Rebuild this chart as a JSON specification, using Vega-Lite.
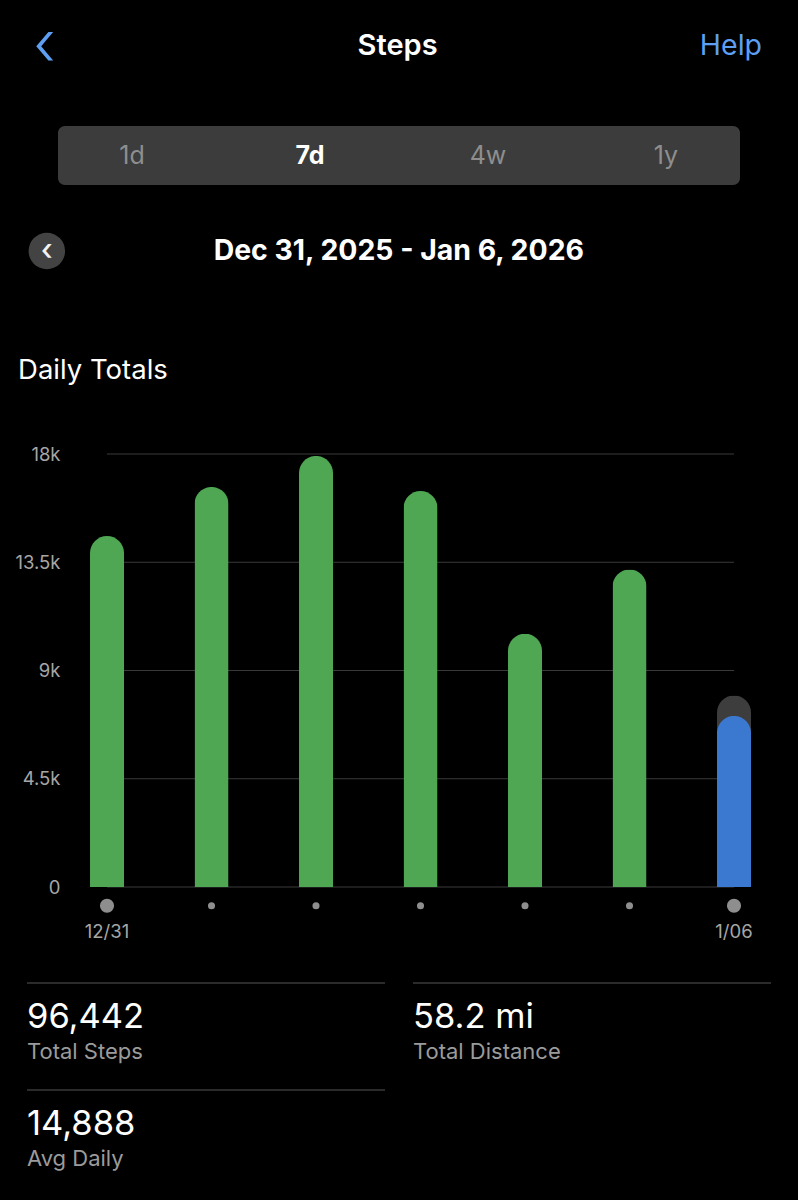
{
  "$schema": "https://vega.github.io/schema/vega-lite/v6.json",
  "background": "#000000",
  "padding": 0,
  "config": {"view": {"stroke": null}, "font": "Inter", "text": {"font": "Inter"}},
  "datasets": {
    "days": [
      {"date": "12/31", "steps": 14590, "status": "past"},
      {"date": "1/01", "steps": 16630, "status": "past"},
      {"date": "1/02", "steps": 17920, "status": "past"},
      {"date": "1/03", "steps": 16460, "status": "past"},
      {"date": "1/04", "steps": 10530, "status": "past"},
      {"date": "1/05", "steps": 13200, "status": "past"},
      {"date": "1/06", "steps": 7112, "status": "today", "goal": 7960}
    ],
    "ticks": [{"tick": 0}, {"tick": 4500}, {"tick": 9000}, {"tick": 13500}, {"tick": 18000}],
    "stats": [
      {"col": "left", "row": "1", "value": "96,442", "label": "Total Steps"},
      {"col": "right", "row": "1", "value": "58.2 mi", "label": "Total Distance"},
      {"col": "left", "row": "2", "value": "14,888", "label": "Avg Daily"}
    ]
  },
  "spacing": 34,
  "bounds": "flush",
  "center": true,
  "vconcat": [
    {
      "width": 798,
      "height": 92,
      "data": {"values": [
        {"item": "back", "text": "‹"},
        {"item": "title", "text": "Steps"},
        {"item": "help", "text": "Help"}
      ]},
      "encoding": {
        "x": {"field": "item", "type": "nominal", "scale": {"type": "point", "domain": ["back", "title", "help"], "padding": 0.095, "align": 0.48}, "axis": null},
        "text": {"field": "text", "type": "nominal"}
      },
      "layer": [
        {"transform": [{"filter": "datum.item === 'back'"}], "mark": {"type": "text", "align": "left", "fontSize": 62, "fontWeight": 300, "color": "#5e9ff2"}},
        {"transform": [{"filter": "datum.item === 'title'"}], "mark": {"type": "text", "align": "center", "fontSize": 29, "fontWeight": 600, "color": "#ffffff"}},
        {"transform": [{"filter": "datum.item === 'help'"}], "mark": {"type": "text", "align": "right", "fontSize": 28.5, "color": "#5e9ff2"}}
      ]
    },
    {
      "width": 682,
      "height": 59,
      "view": {"fill": "#3c3c3c", "stroke": null, "cornerRadius": 7},
      "data": {"values": [
        {"range": "1d", "selected": false},
        {"range": "7d", "selected": true},
        {"range": "4w", "selected": false},
        {"range": "1y", "selected": false}
      ]},
      "encoding": {
        "x": {"field": "range", "type": "nominal", "scale": {"type": "point", "domain": ["1d", "7d", "4w", "1y"], "padding": 0.416}, "axis": null},
        "text": {"field": "range", "type": "nominal"}
      },
      "layer": [
        {"transform": [{"filter": "!datum.selected"}], "mark": {"type": "text", "fontSize": 25, "color": "#8e8e8e"}},
        {"transform": [{"filter": "datum.selected"}], "mark": {"type": "text", "fontSize": 25, "fontWeight": "bold", "color": "#ffffff"}}
      ]
    },
    {
      "width": 798,
      "height": 184,
      "data": {"values": [
        {"item": "prev", "line": "nav", "text": "‹"},
        {"item": "range", "line": "nav", "text": "Dec 31, 2025 - Jan 6, 2026"},
        {"item": "heading", "line": "section", "text": "Daily Totals"}
      ]},
      "encoding": {
        "y": {"field": "line", "type": "nominal", "scale": {"type": "point", "domain": ["nav", "section"], "padding": 0.2667, "align": 0.5}, "axis": null}
      },
      "layer": [
        {
          "encoding": {
            "x": {"field": "item", "type": "nominal", "scale": {"type": "point", "domain": ["prev", "range"], "padding": 0.6335, "align": 0.105}, "axis": null}
          },
          "layer": [
            {"transform": [{"filter": "datum.item === 'prev'"}], "mark": {"type": "point", "shape": "circle", "filled": true, "size": 1330, "color": "#434343", "opacity": 1}},
            {"transform": [{"filter": "datum.item === 'prev'"}], "mark": {"type": "text", "fontSize": 30, "fontWeight": 500, "color": "#f2f2f2"}, "encoding": {"text": {"field": "text", "type": "nominal"}}},
            {"transform": [{"filter": "datum.item === 'range'"}], "mark": {"type": "text", "fontSize": 28.4, "fontWeight": "bold", "color": "#ffffff"}, "encoding": {"text": {"field": "text", "type": "nominal"}}}
          ]
        },
        {
          "transform": [{"filter": "datum.item === 'heading'"}],
          "mark": {"type": "text", "align": "left", "fontSize": 27.5, "color": "#ffffff"},
          "encoding": {
            "x": {"field": "item", "type": "nominal", "scale": {"type": "point", "domain": ["heading"], "align": 0.0226}, "axis": null},
            "text": {"field": "text", "type": "nominal"}
          }
        }
      ],
      "resolve": {"scale": {"x": "independent"}}
    },
    {
      "width": 798,
      "height": 450,
      "layer": [
        {
          "data": {"name": "ticks"},
          "mark": {"type": "rule", "color": "#3a3a3a", "strokeWidth": 1},
          "encoding": {
            "x": {"datum": "12/31", "type": "nominal", "scale": {"type": "band", "domain": ["12/31", "1/01", "1/02", "1/03", "1/04", "1/05", "1/06"], "paddingInner": 0.6746, "paddingOuter": 0.6555, "align": 0.657}},
            "x2": {"datum": "1/06"},
            "y": {"field": "tick", "type": "quantitative"}
          }
        },
        {
          "data": {"name": "days"},
          "transform": [{"filter": "datum.goal != null"}],
          "mark": {"type": "bar", "cornerRadiusEnd": 17, "color": "#3d3d3d"},
          "encoding": {
            "x": {"field": "date", "type": "nominal", "sort": null},
            "y": {"field": "goal", "type": "quantitative"}
          }
        },
        {
          "data": {"name": "days"},
          "mark": {"type": "bar", "cornerRadiusEnd": 17},
          "encoding": {
            "x": {"field": "date", "type": "nominal", "sort": null,
              "axis": {"title": null, "domain": false, "ticks": false, "tickSize": 0, "labelPadding": 44, "labelAngle": 0, "labelAlign": "center", "labelFlush": false, "labelColor": "#a6a6a6", "labelFontSize": 18.5, "labelFont": "Inter",
                "labelExpr": "datum.label == '12/31' || datum.label == '1/06' ? datum.label : ''"}},
            "y": {"field": "steps", "type": "quantitative", "scale": {"domain": [0, 18707], "nice": false},
              "axis": {"title": null, "values": [0, 4500, 9000, 13500, 18000], "grid": false, "domain": false, "ticks": false, "tickSize": 0, "labelPadding": -60, "labelColor": "#a6a6a6", "labelFontSize": 18.5, "labelFont": "Inter",
                "labelExpr": "datum.value == 0 ? '0' : (datum.value / 1000) + 'k'"}},
            "color": {"field": "status", "type": "nominal", "scale": {"domain": ["past", "today"], "range": ["#4fa653", "#3b78d0"]}, "legend": null}
          }
        },
        {
          "data": {"name": "days"},
          "mark": {"type": "point", "shape": "circle", "filled": true, "opacity": 1, "color": "#8e8e8e"},
          "encoding": {
            "x": {"field": "date", "type": "nominal", "sort": null},
            "y": {"datum": -780, "type": "quantitative"},
            "size": {"condition": {"test": "datum.date === '12/31' || datum.date === '1/06'", "value": 200}, "value": 50}
          }
        }
      ]
    },
    {
      "width": 798,
      "height": 279,
      "data": {"name": "stats"},
      "encoding": {
        "x": {"field": "col", "type": "nominal", "bandPosition": 0, "scale": {"type": "band", "domain": ["left", "right"], "paddingInner": 0.0725, "paddingOuter": 0.0699, "align": 0.5}, "axis": null}
      },
      "layer": [
        {
          "mark": {"type": "rule", "color": "#3a3a3a", "strokeWidth": 1.5},
          "encoding": {
            "x2": {"field": "col", "bandPosition": 1},
            "y": {"field": "row", "type": "nominal", "bandPosition": 0, "scale": {"type": "band", "domain": ["1", "2"], "paddingInner": 0, "paddingOuter": 0.3037, "align": 0.954}, "axis": null}
          }
        },
        {
          "mark": {"type": "text", "align": "left", "baseline": "middle", "fontSize": 34.5, "color": "#ffffff"},
          "encoding": {
            "y": {"field": "row", "type": "nominal", "bandPosition": 0.33},
            "text": {"field": "value", "type": "nominal"}
          }
        },
        {
          "mark": {"type": "text", "align": "left", "baseline": "middle", "fontSize": 22, "color": "#9b9b9b"},
          "encoding": {
            "y": {"field": "row", "type": "nominal", "bandPosition": 0.645},
            "text": {"field": "label", "type": "nominal"}
          }
        }
      ]
    }
  ]
}
